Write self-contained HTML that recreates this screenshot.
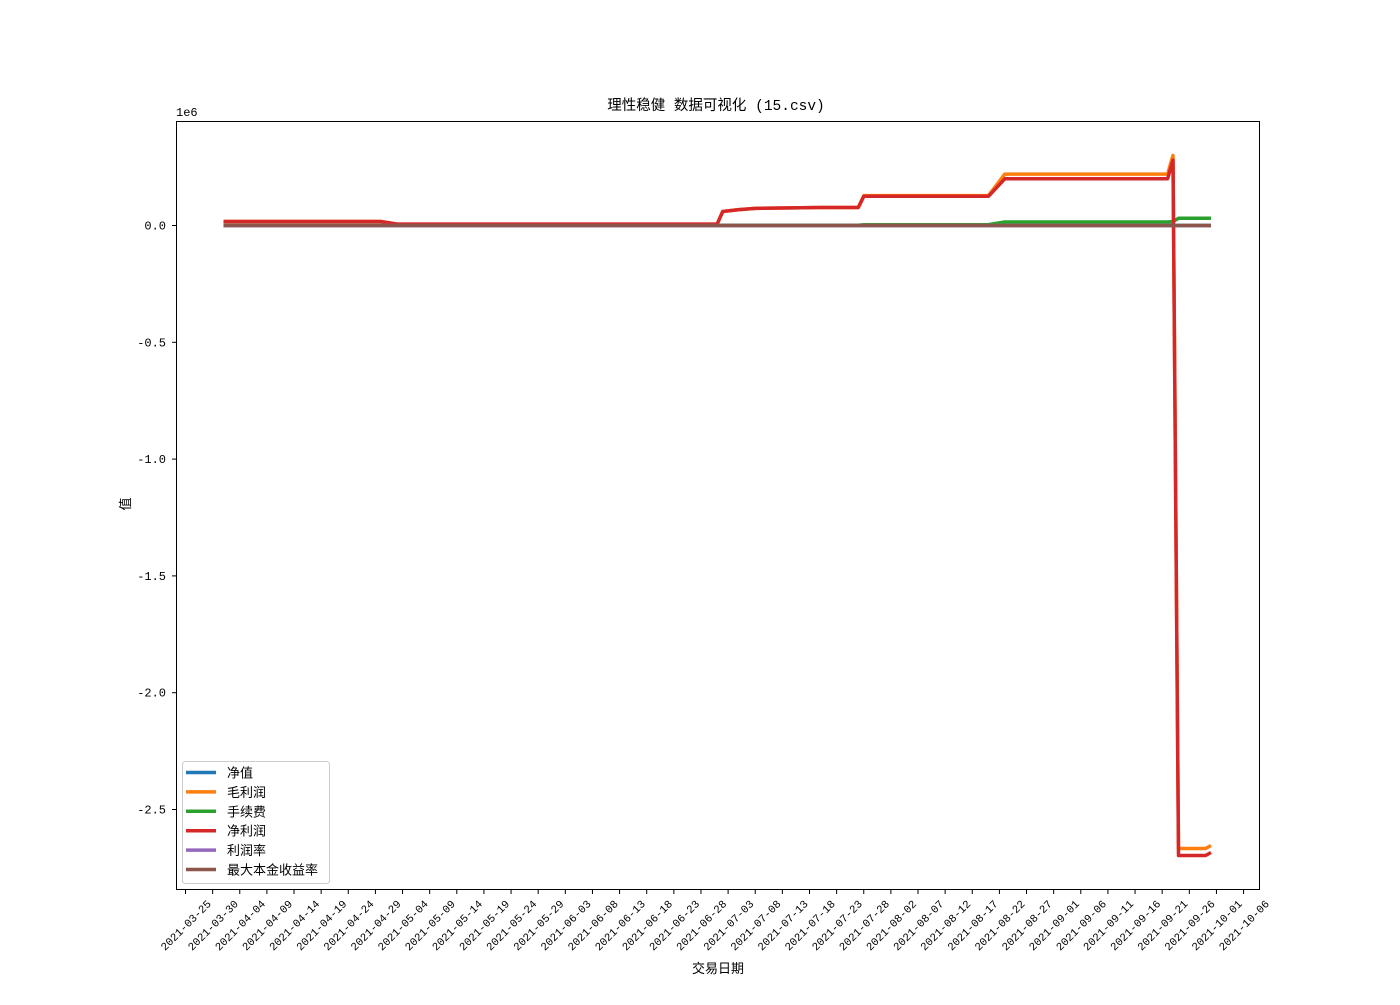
<!DOCTYPE html>
<html><head><meta charset="utf-8"><style>
body{margin:0;background:#fff}
text{font-family:"Liberation Mono","Noto Sans CJK SC",monospace;fill:#000}
</style></head><body>
<svg id="chart" width="1400" height="1000" xmlns="http://www.w3.org/2000/svg">
<rect width="1400" height="1000" fill="#fff"/>
<text x="716" y="110" font-size="14.5" text-anchor="middle">理性稳健 数据可视化 (15.csv)</text>
<text x="176" y="116" font-size="12">1e6</text>
<text x="0" y="0" font-size="13" text-anchor="middle" transform="translate(130,504) rotate(-90)">值</text>
<text x="718" y="973" font-size="13" text-anchor="middle">交易日期</text>
<g id="ticks"></g>
<g id="series"></g>
<rect x="176.5" y="121.5" width="1083" height="768" fill="none" stroke="#000" stroke-width="1"/>
<g id="legend"></g>
</svg>
<script>
const dates = ["2021-04-01","2021-04-30","2021-05-03","2021-07-01","2021-07-02","2021-07-05","2021-07-08","2021-07-20","2021-07-27","2021-07-28","2021-08-20","2021-08-23","2021-09-22","2021-09-23","2021-09-24","2021-09-29","2021-09-30"];
const netValue = [0,0,0,0,0,0,0,0,0,0,0,0,0,0,0,0,0];
const grossProfit = [0.017,0.017,0.006,0.006,0.06,0.068,0.073,0.077,0.077,0.128,0.128,0.22,0.22,0.30,-2.667,-2.667,-2.654];
const fees = [0.001,0.001,0.001,0.001,0.001,0.001,0.001,0.001,0.001,0.003,0.004,0.015,0.015,0.017,0.031,0.031,0.031];
const netProfit = [0.017,0.017,0.006,0.006,0.06,0.068,0.073,0.077,0.077,0.125,0.125,0.2,0.2,0.28,-2.697,-2.697,-2.684];
const profitRate = [0,0,0,0,0,0,0,0,0,0,0,0,0,0,0,0,0];
const maxReturn = [0,0,0,0,0,0,0,0,0,0,0,0,0,0,0,0,0];
const yTicks = [0,-0.5,-1.0,-1.5,-2.0,-2.5];
const yTickLabels = ["0.0","-0.5","-1.0","-1.5","-2.0","-2.5"];
const xTickStart = "2021-03-25";
const xTickCount = 40;
const seriesNames = ["净值","毛利润","手续费","净利润","利润率","最大本金收益率"];
const seriesColors = ["#1f77b4","#ff7f0e","#2ca02c","#d62728","#9467bd","#8c564b"];
const seriesData = [netValue,grossProfit,fees,netProfit,profitRate,maxReturn];

const NS="http://www.w3.org/2000/svg";
const base=Date.parse(xTickStart+"T00:00:00Z");
function dayOf(s){return (Date.parse(s+"T00:00:00Z")-base)/86400000;}
function xs(d){return 185.5+d*5.426;}
function ys(v){return 225.5-v*233.6;}
function mk(tag,attrs,parent){const e=document.createElementNS(NS,tag);for(const k in attrs)e.setAttribute(k,attrs[k]);parent.appendChild(e);return e;}

const tg=document.getElementById('ticks');
yTicks.forEach((v,i)=>{
  const t=mk('line',{x1:172,x2:176,y1:ys(v),y2:ys(v),stroke:'#000'},tg);
  
  
  const l=mk('text',{x:166,y:ys(v)+4,'font-size':12,'text-anchor':'end'},tg);
  l.textContent=yTickLabels[i];
  
  
});
for(let i=0;i<xTickCount;i++){
  const d=i*5;
  const dt=new Date(base+d*86400000).toISOString().slice(0,10);
  const x=xs(d);
  const t=mk('line',{x1:x,x2:x,y1:890,y2:894,stroke:'#000'},tg);
  
  
  const l=mk('text',{x:0,y:4,'font-size':11,'text-anchor':'middle',transform:`translate(${x},${925}) rotate(-45)`},tg);
  l.textContent=dt;
  
  
}
const sg=document.getElementById('series');
seriesData.forEach((arr,si)=>{
  const pts=arr.map((v,i)=>xs(dayOf(dates[i])).toFixed(1)+','+ys(v).toFixed(1)).join(' ');
  const p=mk('polyline',{points:pts,fill:'none',stroke:seriesColors[si],'stroke-width':3.5,'stroke-linejoin':'round'},sg);
  
  
});
const lg=document.getElementById('legend');
const box=mk('rect',{x:182.5,y:761.5,width:147,height:122,rx:3,fill:'#fff','fill-opacity':0.8,stroke:'#ccc'},lg);


seriesNames.forEach((n,i)=>{
  const y=772.5+i*19.4;
  const ln=mk('line',{x1:186,x2:216,y1:y,y2:y,stroke:seriesColors[i],'stroke-width':3.5},lg);
  
  
  const t=mk('text',{x:227,y:y+5,'font-size':13},lg);
  t.textContent=n;
  
  
});
</script>
</body></html>
